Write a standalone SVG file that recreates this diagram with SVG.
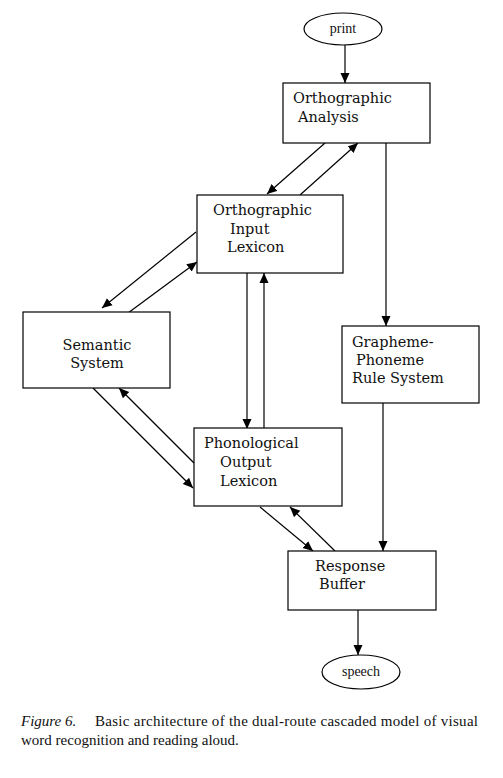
<svg xmlns="http://www.w3.org/2000/svg" width="503" height="778" viewBox="0 0 503 778">
<style>
.box{fill:#fff;stroke:#000;stroke-width:1.2}
text{fill:#111}
.t{font-family:'DejaVu Serif','Liberation Serif',serif;font-size:14.5px}
.s{font-family:'Liberation Serif','DejaVu Serif',serif;font-size:14px}
.c{font-family:'Liberation Serif','DejaVu Serif',serif;font-size:15px}
.ln{stroke:#000;stroke-width:1.2;fill:none;marker-end:url(#ah)}
</style>
<defs>
<marker id="ah" viewBox="0 0 10 10" refX="10" refY="5" markerWidth="10" markerHeight="10" markerUnits="userSpaceOnUse" orient="auto">
<path d="M0,0.5 L10,5 L0,9.5 Z" fill="#000"/>
</marker>
</defs>
<rect width="503" height="778" fill="#fff"/>
<g id="connectors">
<line class="ln" x1="345" y1="45" x2="345" y2="83"/>
<line class="ln" x1="325" y1="143" x2="267" y2="194"/>
<line class="ln" x1="300" y1="195" x2="358" y2="143"/>
<line class="ln" x1="386" y1="143" x2="386" y2="326"/>
<line class="ln" x1="196" y1="232" x2="102" y2="308"/>
<line class="ln" x1="128" y1="313" x2="197" y2="262"/>
<line class="ln" x1="247" y1="273" x2="247" y2="429"/>
<line class="ln" x1="264" y1="429" x2="264" y2="273"/>
<line class="ln" x1="93" y1="388" x2="193" y2="488"/>
<line class="ln" x1="194" y1="463" x2="119" y2="388"/>
<line class="ln" x1="260" y1="507" x2="313" y2="551"/>
<line class="ln" x1="335" y1="551" x2="290" y2="507"/>
<line class="ln" x1="383" y1="403" x2="383" y2="551"/>
<line class="ln" x1="358" y1="610" x2="358" y2="655"/>
</g>
<g id="print">
<ellipse class="box" cx="343" cy="29" rx="39" ry="16"/>
<text class="s" x="343" y="33" text-anchor="middle">print</text>
</g>
<g id="orthographic-analysis">
<rect class="box" x="283" y="83" width="147" height="60"/>
<text class="t" x="293" y="103">Orthographic</text>
<text class="t" x="298" y="122">Analysis</text>
</g>
<g id="orthographic-input-lexicon">
<rect class="box" x="197" y="195" width="146" height="78"/>
<text class="t" x="213" y="215">Orthographic</text>
<text class="t" x="230" y="234">Input</text>
<text class="t" x="227" y="252">Lexicon</text>
</g>
<g id="semantic-system">
<rect class="box" x="23" y="312" width="147" height="76"/>
<text class="t" x="97" y="350" text-anchor="middle">Semantic</text>
<text class="t" x="97" y="368" text-anchor="middle">System</text>
</g>
<g id="grapheme-phoneme-rule-system">
<rect class="box" x="342" y="326" width="137" height="77"/>
<text class="t" x="352" y="347">Grapheme-</text>
<text class="t" x="356" y="365">Phoneme</text>
<text class="t" x="352" y="383">Rule System</text>
</g>
<g id="phonological-output-lexicon">
<rect class="box" x="194" y="428" width="148" height="78"/>
<text class="t" x="204" y="448">Phonological</text>
<text class="t" x="220" y="467">Output</text>
<text class="t" x="220" y="486">Lexicon</text>
</g>
<g id="response-buffer">
<rect class="box" x="288" y="551" width="148" height="59"/>
<text class="t" x="315" y="571">Response</text>
<text class="t" x="319" y="589">Buffer</text>
</g>
<g id="speech">
<ellipse class="box" cx="361" cy="672" rx="39" ry="17"/>
<text class="s" x="361" y="676" text-anchor="middle">speech</text>
</g>
<g id="caption">
<text class="c" x="21" y="726" font-style="italic">Figure 6.</text>
<text class="c" x="95" y="726" textLength="383" lengthAdjust="spacing">Basic architecture of the dual-route cascaded model of visual</text>
<text class="c" x="21" y="745">word recognition and reading aloud.</text>
</g>
</svg>
